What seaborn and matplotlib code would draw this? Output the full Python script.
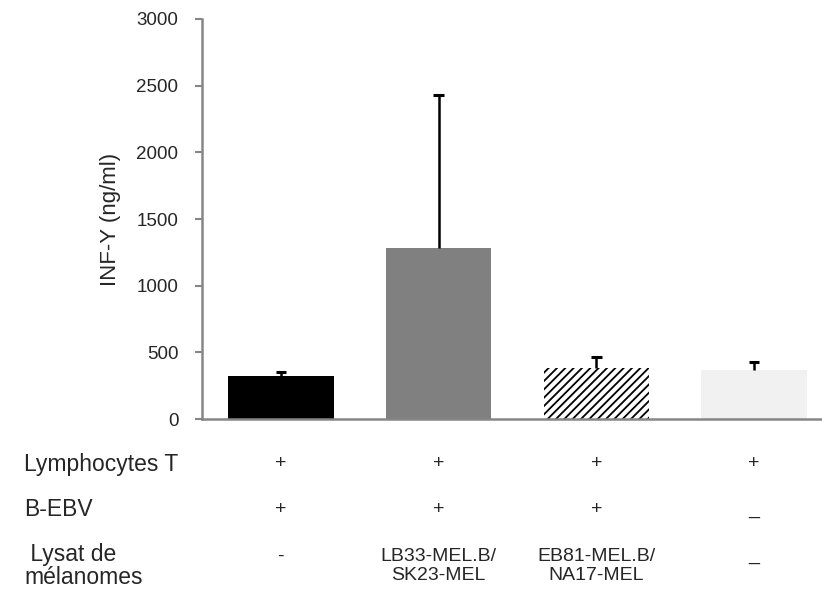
import matplotlib
matplotlib.use("Agg")
import matplotlib.pyplot as plt
import seaborn as sns
import pandas as pd
import numpy as np

# --- data ---
groups = ["ctrl", "LB33", "EB81", "noEBV"]
values = [322, 1280, 383, 367]
err_up = [32, 1150, 82, 62]
bar_colors = ["#000000", "#808080", "#ffffff", "#f1f1f1"]

row_labels = ["Lymphocytes T", "B-EBV", " Lysat de\nmélanomes"]
row_lympho = ["+", "+", "+", "+"]
row_ebv = ["+", "+", "+", "_"]
row_lysat = ["-", "LB33-MEL.B/\nSK23-MEL", "EB81-MEL.B/\nNA17-MEL", "_"]

sns.set_style("white")
plt.rcParams["font.family"] = ["Liberation Sans", "DejaVu Sans"]
plt.rcParams["hatch.linewidth"] = 1.3

df = pd.DataFrame({"groupe": groups, "val": values})

fig = plt.figure(figsize=(8.22, 6.01), dpi=100)
ax = fig.add_axes([0.2457, 0.3028, 0.7543, 0.6656])

sns.barplot(data=df, x="groupe", y="val", hue="groupe", palette=bar_colors,
            legend=False, width=0.67, errorbar=None, saturation=1,
            linewidth=0, ax=ax, zorder=2)

# hatched third bar
p = ax.patches[2]
p.set_hatch("////")
p.set_edgecolor("black")
p.set_linewidth(0)

# upper error bars only (stem + top cap)
xs = np.arange(len(groups))
tops = np.array(values) + np.array(err_up)
ax.vlines(xs, values, tops, color="black", linewidth=1.8, zorder=3)
ax.hlines(tops, xs - 0.033, xs + 0.033, color="black", linewidth=2.2, zorder=3)

ax.set_xlim(-0.5, 3.43)
ax.set_ylim(0, 3000)
ax.set_yticks(range(0, 3001, 500))
ax.tick_params(axis="y", labelsize=13.5, length=5, width=1.5, color="#868686",
               direction="out", left=True, pad=12)
ax.tick_params(axis="x", bottom=False, labelbottom=False)
ax.set_xlabel("")
ax.set_ylabel("INF-Y (ng/ml)", fontsize=16)
ax.yaxis.set_label_coords(-0.13, 0.5)
for s in ["top", "right"]:
    ax.spines[s].set_visible(False)
for s in ["left", "bottom"]:
    ax.spines[s].set_color("#868686")
    ax.spines[s].set_linewidth(1.8)

# table of conditions under the axis
tr = matplotlib.transforms.blended_transform_factory(ax.transData, fig.transFigure)
row_y = [1 - 464 / 601, 1 - 510 / 601, 1 - 566 / 601]
for lab, y in zip(row_labels, row_y):
    fig.text(24 / 822, y, lab, ha="left", va="center", fontsize=16.5,
             linespacing=1.05)
for i in range(len(groups)):
    ax.text(i, row_y[0], row_lympho[i], transform=tr, ha="center",
            va="center", fontsize=14)
    ax.text(i, row_y[1], row_ebv[i],
            transform=tr, ha="center", va="center", fontsize=14)
    txt = row_lysat[i]
    dy = {"-": 0.016, "_": 0.018}.get(txt, 0)
    ax.text(i, row_y[2] + dy, txt, transform=tr, ha="center", va="center",
            fontsize=14, linespacing=1.2)

fig.savefig("out.png", dpi=100)
